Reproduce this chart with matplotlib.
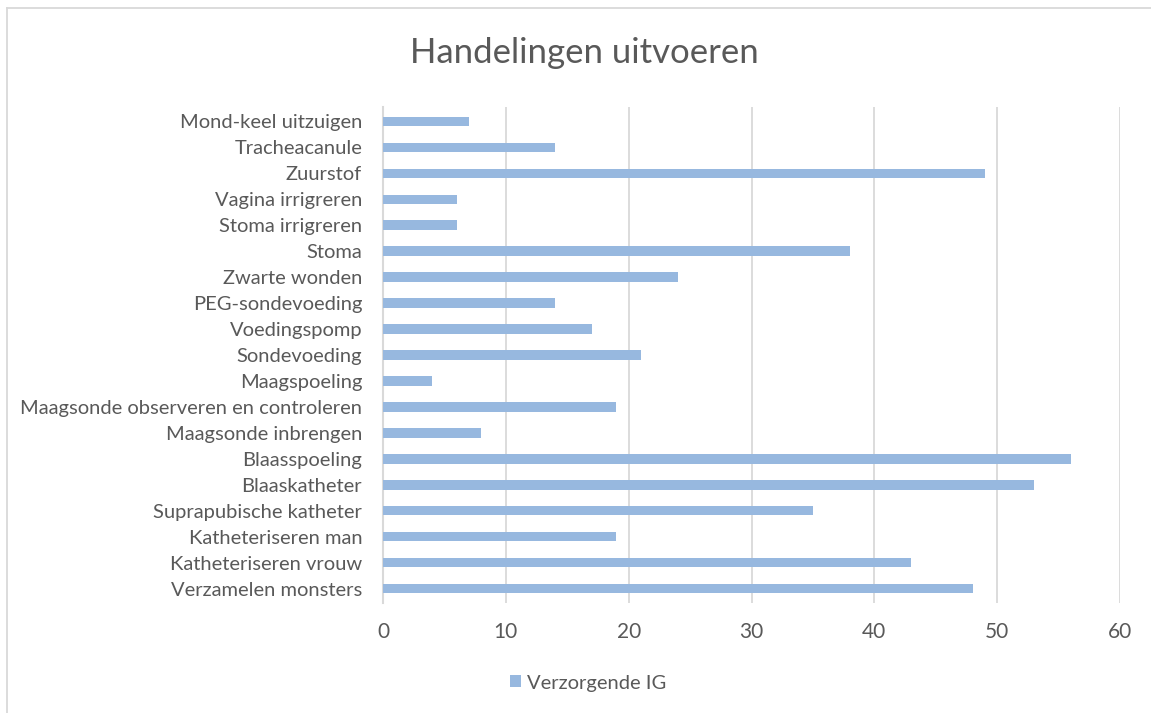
import matplotlib
matplotlib.use("Agg")
import matplotlib.pyplot as plt
from matplotlib.patches import Patch
from matplotlib.lines import Line2D

categories = [
    "Verzamelen monsters", "Katheteriseren vrouw", "Katheteriseren man",
    "Suprapubische katheter", "Blaaskatheter", "Blaasspoeling",
    "Maagsonde inbrengen", "Maagsonde observeren en controleren",
    "Maagspoeling", "Sondevoeding", "Voedingspomp", "PEG-sondevoeding",
    "Zwarte wonden", "Stoma", "Stoma irrigreren", "Vagina irrigreren",
    "Zuurstof", "Tracheacanule", "Mond-keel uitzuigen",
]
values = [48, 43, 19, 35, 53, 56, 8, 19, 4, 21, 17, 14, 24, 38, 6, 6, 49, 14, 7]
series_name = "Verzorgende IG"
xticks = [0, 10, 20, 30, 40, 50, 60]

plt.rcParams['font.family'] = ['Lato', 'DejaVu Sans']
bar_color = "#97B8DF"
text_color = "#595959"

fig = plt.figure(figsize=(11.51, 7.13), dpi=100)
ax = fig.add_axes([383/1151, 110/713, (1120-383)/1151, (603-107)/713])

y = list(range(len(categories)))
ax.barh(y, values, height=0.36, color=bar_color, zorder=3)
ax.set_yticks(y)
ax.set_yticklabels(categories, fontsize=14.5, color=text_color)
ax.set_ylim(-0.55, len(categories) - 0.45)
ax.set_xlim(0, 60)
ax.set_xticks(xticks)
ax.set_xticklabels([str(t) for t in xticks], fontsize=15, color=text_color)
ax.grid(axis='x', color='#D9D9D9', linewidth=1.3, zorder=0)
for s in ['top', 'right', 'bottom']:
    ax.spines[s].set_visible(False)
ax.spines['left'].set_color('#D9D9D9')
ax.spines['left'].set_linewidth(1.5)
ax.tick_params(axis='both', length=0)
ax.tick_params(axis='x', pad=14)
ax.tick_params(axis='y', pad=15)

fig.text(584/1151, 1 - 53/713, "Handelingen uitvoeren", fontsize=25, color=text_color,
         ha='center', va='center')

handle = Patch(facecolor=bar_color, edgecolor='none')
fig.legend([handle], [series_name], loc='center', bbox_to_anchor=(588/1151, 1 - 683/713),
           frameon=False, fontsize=14.5, labelcolor=text_color, handlelength=0.55,
           handleheight=0.55, handletextpad=0.3)

# chart-area border (only top and left edges are visible in the image)
x0, y0 = 7/1151, 1 - 8/713
fig.add_artist(Line2D([x0, 1.0], [y0, y0], transform=fig.transFigure,
                      color='#D9D9D9', linewidth=1.3))
fig.add_artist(Line2D([x0, x0], [0.0, y0], transform=fig.transFigure,
                      color='#D9D9D9', linewidth=1.3))

fig.savefig("out.png", dpi=100)
